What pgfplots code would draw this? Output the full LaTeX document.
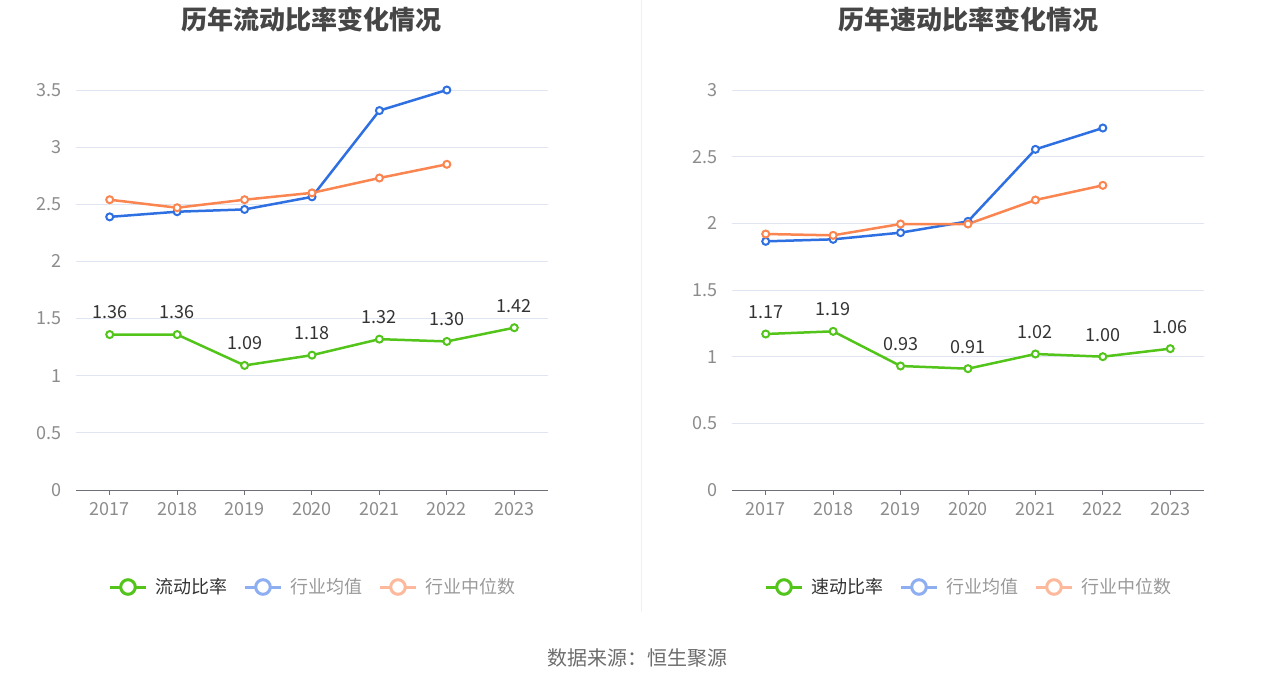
\documentclass[border=0pt]{standalone}
\usepackage{pgfplots}
\pgfplotsset{compat=1.18}
\usepackage{fontspec}
\setmainfont{Noto Sans CJK SC}
\definecolor{cgreen}{HTML}{52C41A}
\definecolor{cblue}{HTML}{2E6FE2}
\definecolor{corange}{HTML}{FA8550}
\definecolor{lblue}{HTML}{8DAEF0}
\definecolor{lorange}{HTML}{FDB99C}
\definecolor{gridc}{HTML}{E0E6F1}
\definecolor{axisgray}{HTML}{6E7079}
\definecolor{tickgray}{HTML}{8C8C8C}
\definecolor{labeldark}{HTML}{333333}
\definecolor{titlec}{HTML}{464646}
\definecolor{legdark}{HTML}{333333}
\definecolor{leggray}{HTML}{999999}
\pgfplotsset{
  myax/.style={
    scale only axis, width=472pt, height=400pt,
    xmin=-0.5, xmax=6.5, ymin=0,
    xtick={0,1,2,3,4,5,6},
    xticklabels={2017,2018,2019,2020,2021,2022,2023},
    axis x line=bottom, axis y line=left,
    x axis line style={-, draw=axisgray, line width=1pt},
    y axis line style={draw=none},
    ymajorgrids, grid style={gridc, line width=1pt},
    xtick style={draw=axisgray, line width=1pt},
    ytick style={draw=none},
    tick align=outside, major tick length=5pt,
    ticklabel style={font=\fontsize{18}{18}\selectfont, text=tickgray},
    xticklabel style={yshift=-4pt},
    yticklabel style={xshift=-6pt},
    /pgf/number format/assume math mode=true,
    clip=false,
    title style={at={(0.5,1.1625)}, anchor=center, font=\fontsize{26}{26}\selectfont\bfseries, text=titlec},
    legend columns=3,
    legend style={draw=none, fill=none, at={(0.5,-0.2425)}, anchor=center,
      font=\fontsize{18}{18}\selectfont, inner sep=0pt,
      nodes={inner sep=0pt},
      /tikz/every odd column/.append style={column sep=8pt},
      /tikz/every even column/.append style={column sep=16pt}},
    legend image code/.code={
      \draw[##1, line width=3pt] (0pt,0pt) -- (36pt,0pt);
      \draw[##1, line width=3pt, fill=white] (18pt,0pt) circle (7.3pt);
    },
  },
  ser/.style={color=#1, line width=2.5pt, mark=*, mark size=3.5pt,
    mark options={fill=white, draw=#1, line width=2pt}},
  lab/.style={nodes near coords={\pgfmathprintnumber[fixed,fixed zerofill,precision=2,assume math mode=true]{\pgfplotspointmeta}},
    point meta=y,
    every node near coord/.append style={anchor=center, yshift=22pt, font=\fontsize{18}{18}\selectfont, text=labeldark}},
}
\begin{document}
\begin{tikzpicture}
\path[use as bounding box] (0pt,0pt) rectangle (1275pt,-688pt);
\draw[color=gray!12, line width=1pt] (641pt,0pt) -- (641pt,-612pt);
\begin{axis}[myax, at={(76pt,-490pt)}, anchor=south west,
  ymax=3.5, ytick={0,0.5,1,1.5,2,2.5,3,3.5},
  title={历年流动比率变化情况}]
\addlegendimage{color=cgreen}
\addlegendentry{\textcolor{legdark}{流动比率}}
\addlegendimage{color=lblue}
\addlegendentry{\textcolor{leggray}{行业均值}}
\addlegendimage{color=lorange}
\addlegendentry{\textcolor{leggray}{行业中位数}}
\addplot[ser=cgreen, lab, forget plot] coordinates {(0,1.36) (1,1.36) (2,1.09) (3,1.18) (4,1.32) (5,1.30) (6,1.42)};
\addplot[ser=cblue, forget plot] coordinates {(0,2.39) (1,2.435) (2,2.455) (3,2.565) (4,3.32) (5,3.50)};
\addplot[ser=corange, forget plot] coordinates {(0,2.54) (1,2.47) (2,2.54) (3,2.60) (4,2.73) (5,2.85)};
\end{axis}
\begin{axis}[myax, at={(732pt,-490pt)}, anchor=south west,
  ymax=3, ytick={0,0.5,1,1.5,2,2.5,3},
  title={历年速动比率变化情况}]
\addlegendimage{color=cgreen}
\addlegendentry{\textcolor{legdark}{速动比率}}
\addlegendimage{color=lblue}
\addlegendentry{\textcolor{leggray}{行业均值}}
\addlegendimage{color=lorange}
\addlegendentry{\textcolor{leggray}{行业中位数}}
\addplot[ser=cgreen, lab, forget plot] coordinates {(0,1.17) (1,1.19) (2,0.93) (3,0.91) (4,1.02) (5,1.00) (6,1.06)};
\addplot[ser=cblue, forget plot] coordinates {(0,1.865) (1,1.88) (2,1.93) (3,2.015) (4,2.555) (5,2.715)};
\addplot[ser=corange, forget plot] coordinates {(0,1.92) (1,1.91) (2,1.995) (3,1.995) (4,2.175) (5,2.285)};
\end{axis}
\node[font=\fontsize{20}{20}\selectfont, text=gray!85!black] at (637.5pt,-658pt) {数据来源：恒生聚源};
\end{tikzpicture}
\end{document}
